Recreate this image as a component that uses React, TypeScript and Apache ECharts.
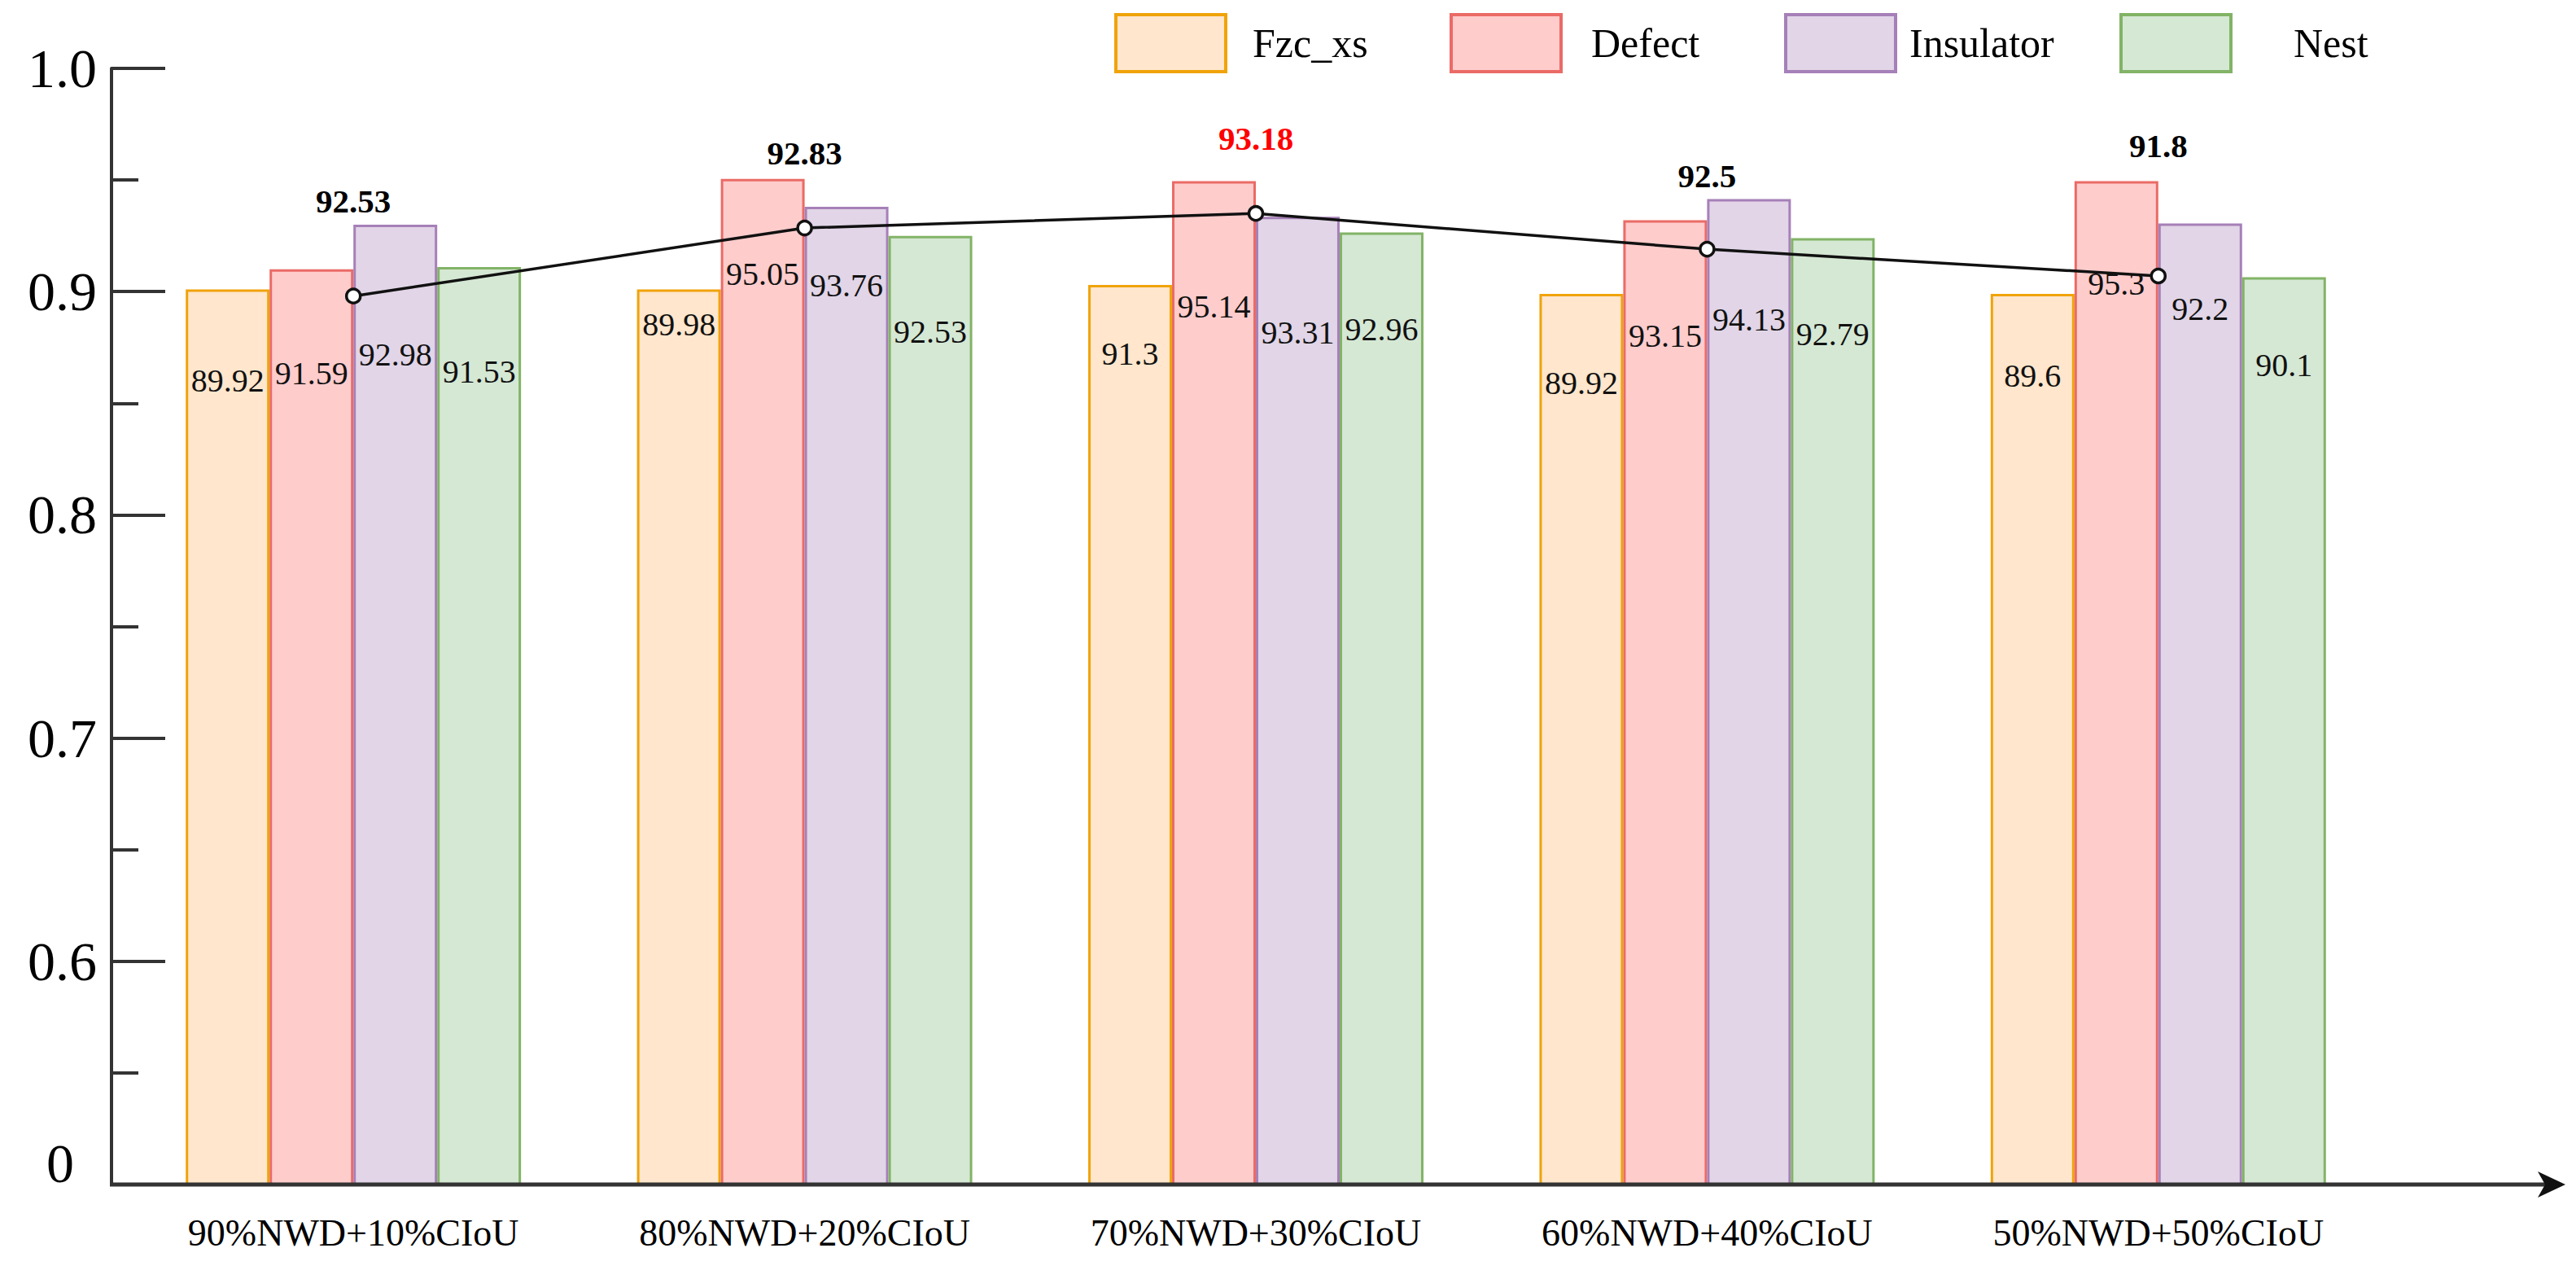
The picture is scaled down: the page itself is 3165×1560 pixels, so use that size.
import React, { useEffect, useRef } from "react";
import * as echarts from "echarts";

// ---------- data ----------
const CATEGORIES = [
  "90%NWD+10%CIoU",
  "80%NWD+20%CIoU",
  "70%NWD+30%CIoU",
  "60%NWD+40%CIoU",
  "50%NWD+50%CIoU",
];
const SERIES_NAMES = ["Fzc_xs", "Defect", "Insulator", "Nest"];

// bar heights as drawn on the axis
const FZC_VALUES = [0.901, 0.901, 0.903, 0.899, 0.899];
const DEFECT_VALUES = [0.91, 0.9505, 0.9495, 0.932, 0.9495];
const INSULATOR_VALUES = [0.93, 0.938, 0.9335, 0.9415, 0.9305];
const NEST_VALUES = [0.911, 0.925, 0.9265, 0.924, 0.9065];
const AVERAGE_VALUES = [0.898, 0.9285, 0.935, 0.919, 0.907];

// printed labels
const FZC_LABELS = ["89.92", "89.98", "91.3", "89.92", "89.6"];
const DEFECT_LABELS = ["91.59", "95.05", "95.14", "93.15", "95.3"];
const INSULATOR_LABELS = ["92.98", "93.76", "93.31", "94.13", "92.2"];
const NEST_LABELS = ["91.53", "92.53", "92.96", "92.79", "90.1"];
const AVERAGE_LABELS = ["92.53", "92.83", "93.18", "92.5", "91.8"];
const HIGHLIGHT_INDEX = 2;

const Y_MIN = 0.5;
const Y_MAX = 1.0;
const Y_INTERVAL = 0.1;

// ---------- layout (pixels) ----------
// distance from bar top to label centre, per series
const FZC_LABEL_DY = [112, 43, 85, 110, 101];
const DEFECT_LABEL_DY = [128, 117, 154, 142, 126];
const INSULATOR_LABEL_DY = [160, 96, 142, 148, 105];
const NEST_LABEL_DY = [128, 118, 119, 118, 108];
// distance from line point up to its label centre
const AVERAGE_LABEL_DY = [117, 92, 92, 90, 160];

const LEGEND_LEFT = [1369, 1781, 2192, 2604];
const LEGEND_TEXT_PAD = [28, 32, 12, 72];

const FONT = "'Liberation Serif', 'Times New Roman', serif";
const FILLS = ["#FFE6CC", "#FFCCCC", "#E1D5E7", "#D5E8D4"];
const STROKES = ["#F0A30A", "#EA6B66", "#A680B8", "#82B366"];

const VALUES = [FZC_VALUES, DEFECT_VALUES, INSULATOR_VALUES, NEST_VALUES];
const LABELS = [FZC_LABELS, DEFECT_LABELS, INSULATOR_LABELS, NEST_LABELS];
const LABEL_DY = [FZC_LABEL_DY, DEFECT_LABEL_DY, INSULATOR_LABEL_DY, NEST_LABEL_DY];

export default function App() {
  const ref = useRef<HTMLDivElement>(null);

  useEffect(() => {
    if (!ref.current) return;
    const chart = echarts.init(ref.current, undefined, { renderer: "svg" });

    const barSeries = VALUES.map((vals, si) => ({
      name: SERIES_NAMES[si],
      type: "bar",
      barGap: "0%",
      barCategoryGap: "25.7%",
      z: 2,
      itemStyle: { color: FILLS[si], borderColor: STROKES[si], borderWidth: 3 },
      label: {
        show: true,
        position: "insideTop",
        distance: 0,
        fontFamily: FONT,
        fontSize: 40,
        color: "#111",
        verticalAlign: "middle",
      },
      data: vals.map((v, i) => ({
        value: v,
        label: { formatter: LABELS[si][i], offset: [0, LABEL_DY[si][i]] },
      })),
    }));

    const lineSeries = {
      name: "Average",
      type: "line",
      z: 5,
      symbol: "circle",
      symbolSize: 17,
      itemStyle: { color: "#ffffff", borderColor: "#111", borderWidth: 3.5 },
      lineStyle: { color: "#111", width: 3.5 },
      label: {
        show: true,
        position: "inside",
        fontFamily: FONT,
        fontWeight: "bold",
        fontSize: 41,
        color: "#000",
        verticalAlign: "middle",
      },
      data: AVERAGE_VALUES.map((v, i) => ({
        value: v,
        label: {
          formatter: AVERAGE_LABELS[i],
          offset: [0, -AVERAGE_LABEL_DY[i]],
          color: i === HIGHLIGHT_INDEX ? "#FF0000" : "#000",
        },
      })),
    };

    const option = {
      animation: false,
      backgroundColor: "#ffffff",
      legend: SERIES_NAMES.map((name, i) => ({
        data: [name],
        left: LEGEND_LEFT[i],
        top: 16,
        padding: 0,
        icon: "rect",
        itemWidth: 135,
        itemHeight: 70,
        selectedMode: false,
        itemStyle: { borderWidth: 4, borderColor: STROKES[i], color: FILLS[i] },
        textStyle: {
          fontFamily: FONT,
          fontSize: 50,
          color: "#000",
          padding: [0, 0, 0, LEGEND_TEXT_PAD[i]],
        },
      })),
      grid: { left: 157, right: 236, top: 84, bottom: 105, containLabel: false },
      xAxis: {
        type: "category",
        data: CATEGORIES,
        axisLine: { show: false },
        axisTick: { show: false },
        axisLabel: { fontFamily: FONT, fontSize: 46, color: "#000", margin: 36 },
        splitLine: { show: false },
      },
      yAxis: {
        type: "value",
        min: Y_MIN,
        max: Y_MAX,
        interval: Y_INTERVAL,
        offset: 20,
        axisLine: { show: true, lineStyle: { color: "#333", width: 4 } },
        axisTick: { show: true, inside: true, length: 66, lineStyle: { color: "#333", width: 4 } },
        minorTick: { show: true, splitNumber: 2, length: 33, lineStyle: { color: "#333", width: 4 } },
        splitLine: { show: false },
        minorSplitLine: { show: false },
        axisLabel: {
          fontFamily: FONT,
          fontSize: 68,
          color: "#000",
          margin: 18,
          showMinLabel: true,
          showMaxLabel: true,
          formatter: (v: number) => (Math.abs(v - Y_MIN) < 1e-9 ? "{z|0}" : v.toFixed(1)),
          rich: {
            z: { fontFamily: FONT, fontSize: 68, color: "#000", padding: [0, 28, 52, 0] },
          },
        },
      },
      graphic: [
        {
          type: "line",
          shape: { x1: 135, y1: 1455, x2: 3138, y2: 1455 },
          style: { stroke: "#333", lineWidth: 5 },
          z: 10,
        },
        {
          type: "polygon",
          shape: { points: [[3118, 1439], [3152, 1455], [3118, 1471], [3127, 1455]] },
          style: { fill: "#111" },
          z: 10,
        },
      ],
      series: [...barSeries, lineSeries],
    };

    chart.setOption(option as any);
    return () => chart.dispose();
  }, []);

  return (
    <div
      ref={ref}
      style={{ position: "fixed", left: 0, top: 0, width: 3165, height: 1560, background: "#fff" }}
    />
  );
}
